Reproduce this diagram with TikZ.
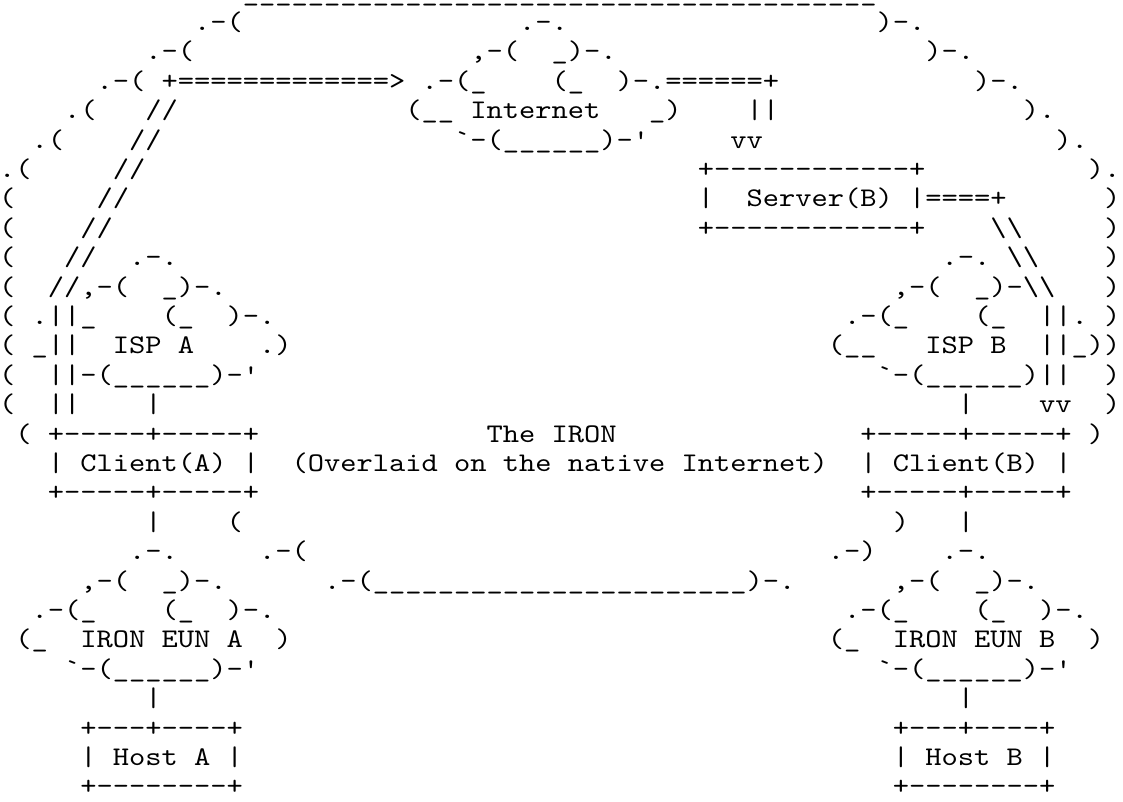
\documentclass[tikz,border=0pt]{standalone}
\usepackage{fontspec}
\setmonofont{lmmono10-regular.otf}[FakeStretch=1.15]
\newcommand\sps[1]{\hspace*{#1\fontcharwd\font`x}}
\newcommand\rpt[2]{\foreach \k in {1,...,#1}{#2}}
\newcommand\bs{\textbackslash}
\catcode`\_=12

\begin{document}
\begin{tikzpicture}[x=0.75pt,y=-0.75pt,
    ascii/.style={anchor=base west,inner sep=0pt,outer sep=0pt,
      font=\fontsize{20.19}{22}\selectfont\ttfamily\frenchspacing}]
  \useasboundingbox (0,0) rectangle (1123,801);
  \def\lh{29.4}
  % the IRON overlay
  \node[ascii] (r0)  at (-1,1+0*\lh)  {\sps{15}\rpt{39}{_}};
  \node[ascii] (r1)  at (-1,1+1*\lh)  {\sps{12}.-(\sps{17}.-.\sps{19})-.};
  \node[ascii] (r2)  at (-1,1+2*\lh)  {\sps{9}.-(\sps{17},-(\sps{2}_)-.\sps{19})-.};
  \node[ascii] (r3)  at (-1,1+3*\lh)  {\sps{6}.-(\sps{1}+\rpt{13}{=}>\sps{1}.-(_\sps{4}(_\sps{2})-.======+\sps{12})-.};
  \node[ascii] (r4)  at (-1,1+4*\lh)  {\sps{4}.(\sps{3}//\sps{14}(__\sps{1}Internet\sps{3}_)\sps{4}||\sps{15}).};
  \node[ascii] (r5)  at (-1,1+5*\lh)  {\sps{2}.(\sps{4}//\sps{18}`-(______)-'\sps{5}vv\sps{18}).};
  \node[ascii] (r6)  at (-1,1+6*\lh)  {.(\sps{5}//\sps{34}+------------+\sps{10}).};
  \node[ascii] (r7)  at (-1,1+7*\lh)  {(\sps{5}//\sps{35}|\sps{2}Server(B)\sps{1}|====+\sps{6})};
  \node[ascii] (r8)  at (-1,1+8*\lh)  {(\sps{4}//\sps{36}+------------+\sps{4}\bs\bs\sps{5})};
  \node[ascii] (r9)  at (-1,1+9*\lh)  {(\sps{3}//\sps{2}.-.\sps{47}.-.\sps{1}\bs\bs\sps{4})};
  \node[ascii] (r10) at (-1,1+10*\lh) {(\sps{2}//,-(\sps{2}_)-.\sps{41},-(\sps{2}_)-\bs\bs\sps{3})};
  \node[ascii] (r11) at (-1,1+11*\lh) {(\sps{1}.||_\sps{4}(_\sps{2})-.\sps{35}.-(_\sps{4}(_\sps{2}||.\sps{1})};
  \node[ascii] (r12) at (-1,1+12*\lh) {(\sps{1}_||\sps{2}ISP\sps{1}A\sps{4}.)\sps{33}(__\sps{3}ISP\sps{1}B\sps{2}||_))};
  \node[ascii] (r13) at (-1,1+13*\lh) {(\sps{2}||-(______)-'\sps{38}`-(______)||\sps{2})};
  \node[ascii] (r14) at (-1,1+14*\lh) {(\sps{2}||\sps{4}|\sps{49}|\sps{4}vv\sps{2})};
  \node[ascii] (r15) at (-1,1+15*\lh) {\sps{1}(\sps{1}+-----+-----+\sps{14}The\sps{1}IRON\sps{15}+-----+-----+\sps{1})};
  \node[ascii] (r16) at (-1,1+16*\lh) {\sps{3}|\sps{1}Client(A)\sps{1}|\sps{2}(Overlaid\sps{1}on\sps{1}the\sps{1}native\sps{1}Internet)\sps{2}|\sps{1}Client(B)\sps{1}|};
  \node[ascii] (r17) at (-1,1+17*\lh) {\sps{3}+-----+-----+\sps{37}+-----+-----+};
  % the two end user networks
  \node[ascii] (r18) at (-1,1+18*\lh) {\sps{9}|\sps{4}(\sps{40})\sps{3}|};
  \node[ascii] (r19) at (-1,1+19*\lh) {\sps{8}.-.\sps{5}.-(\sps{32}.-)\sps{4}.-.};
  \node[ascii] (r20) at (-1,1+20*\lh) {\sps{5},-(\sps{2}_)-.\sps{6}.-(\rpt{23}{_})-.\sps{6},-(\sps{2}_)-.};
  \node[ascii] (r21) at (-1,1+21*\lh) {\sps{2}.-(_\sps{4}(_\sps{2})-.\sps{35}.-(_\sps{4}(_\sps{2})-.};
  \node[ascii] (r22) at (-1,1+22*\lh) {\sps{1}(_\sps{2}IRON\sps{1}EUN\sps{1}A\sps{2})\sps{33}(_\sps{2}IRON\sps{1}EUN\sps{1}B\sps{2})};
  \node[ascii] (r23) at (-1,1+23*\lh) {\sps{4}`-(______)-'\sps{38}`-(______)-'};
  \node[ascii] (r24) at (-1,1+24*\lh) {\sps{9}|\sps{49}|};
  \node[ascii] (r25) at (-1,1+25*\lh) {\sps{5}+---+----+\sps{40}+---+----+};
  \node[ascii] (r26) at (-1,1+26*\lh) {\sps{5}|\sps{1}Host\sps{1}A\sps{1}|\sps{40}|\sps{1}Host\sps{1}B\sps{1}|};
  \node[ascii] (r27) at (-1,1+27*\lh) {\sps{5}+--------+\sps{40}+--------+};
\end{tikzpicture}
\end{document}
